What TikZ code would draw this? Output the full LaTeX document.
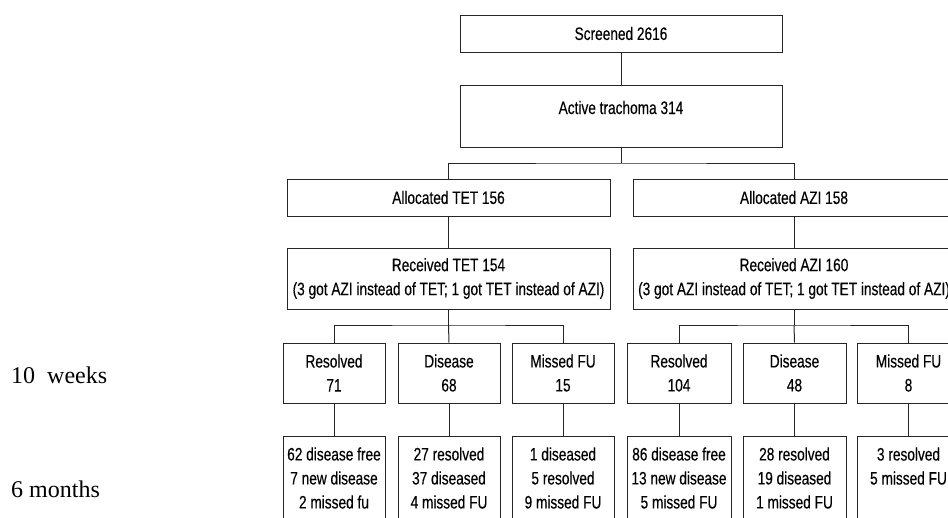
\documentclass[tikz,border=0pt]{standalone}
\usepackage{fontspec}
\newfontfamily\boxfont[FakeStretch=0.76,FakeBold=0.3]{Liberation Sans}
\newfontfamily\labelfont{Liberation Serif}
\begin{document}
\begin{tikzpicture}[x=1pt,y=-1pt,
  box/.style={draw=black!85, line width=1pt, rectangle, inner sep=0pt, align=center,
    font=\boxfont\fontsize{18}{24}\selectfont},
  conn/.style={draw=black!85, line width=1pt},
  side/.style={anchor=base west, inner sep=0pt, font=\labelfont\fontsize{24}{28}\selectfont}]
\useasboundingbox (0,0) rectangle (948,517);
\clip (0,0) rectangle (948,517);
% top
\node[box, minimum width=322pt, minimum height=37pt] (scr) at (621,33.5) {Screened 2616};
\node[box, minimum width=322pt, text height=29pt, text depth=33pt] (act) at (621,116) {Active trachoma 314};
% allocation
\node[box, minimum width=323pt, minimum height=37pt] (tetA) at (448.5,197.5) {Allocated TET 156};
\node[box, minimum width=322pt, minimum height=37pt] (aziA) at (794,197.5) {Allocated AZI 158};
\node[box, minimum width=323pt, minimum height=61pt] (tetR) at (448.5,278.5) {Received TET 154\\(3 got AZI instead of TET; 1 got TET instead of AZI)};
\node[box, minimum width=322pt, minimum height=61pt] (aziR) at (794,278.5) {Received AZI 160\\(3 got AZI instead of TET; 1 got TET instead of AZI)};
% 10 weeks
\node[box, minimum width=102pt, minimum height=60pt] (t1) at (334,373) {Resolved\\71};
\node[box, minimum width=102pt, minimum height=60pt] (t2) at (449,373) {Disease\\68};
\node[box, minimum width=102pt, minimum height=60pt] (t3) at (563,373) {Missed FU\\15};
\node[box, minimum width=104pt, minimum height=60pt] (a1) at (679,373) {Resolved\\104};
\node[box, minimum width=103pt, minimum height=60pt] (a2) at (794.5,373) {Disease\\48};
\node[box, minimum width=103pt, minimum height=60pt] (a3) at (908.5,373) {Missed FU\\8};
% 6 months
\node[box, minimum width=102pt, minimum height=84pt] (u1) at (334,478) {62 disease free\\7 new disease\\2 missed fu};
\node[box, minimum width=102pt, minimum height=84pt] (u2) at (449,478) {27 resolved\\37 diseased\\4 missed FU};
\node[box, minimum width=102pt, minimum height=84pt] (u3) at (563,478) {1 diseased\\5 resolved\\9 missed FU};
\node[box, minimum width=104pt, minimum height=84pt] (b1) at (679,478) {86 disease free\\13 new disease\\5 missed FU};
\node[box, minimum width=103pt, minimum height=84pt] (b2) at (794.5,478) {28 resolved\\19 diseased\\1 missed FU};
\node[box, minimum width=103pt, minimum height=84pt] (b3) at (908.5,478) {3 resolved\\5 missed FU\\\mbox{}};
% side labels
\node[side] (wk) at (11,383) {10\ \ weeks};
\node[side] (mo) at (11,497) {6 months};
% junctions
\coordinate (j1) at (621,163);
\coordinate (j2) at (448.5,325);
\coordinate (j3) at (794,325);
% connectors
\draw[conn] (scr.south) -- (act.north);
\draw[conn] (act.south) -- (j1);
\draw[conn] (tetA.north) |- (j1) -| (aziA.north);
\draw[conn] (tetA.south) -- (tetR.north);
\draw[conn] (aziA.south) -- (aziR.north);
\draw[conn] (tetR.south) -- (j2);
\draw[conn] (t1.north) |- (j2) -| (t3.north);
\draw[conn] (j2) -- (t2.north);
\draw[conn] (aziR.south) -- (j3);
\draw[conn] (a1.north) |- (j3) -| (a3.north);
\draw[conn] (j3) -- (a2.north);
\draw[conn] (t1.south) -- (u1.north);
\draw[conn] (t2.south) -- (u2.north);
\draw[conn] (t3.south) -- (u3.north);
\draw[conn] (a1.south) -- (b1.north);
\draw[conn] (a2.south) -- (b2.north);
\draw[conn] (a3.south) -- (b3.north);
\end{tikzpicture}
\end{document}
